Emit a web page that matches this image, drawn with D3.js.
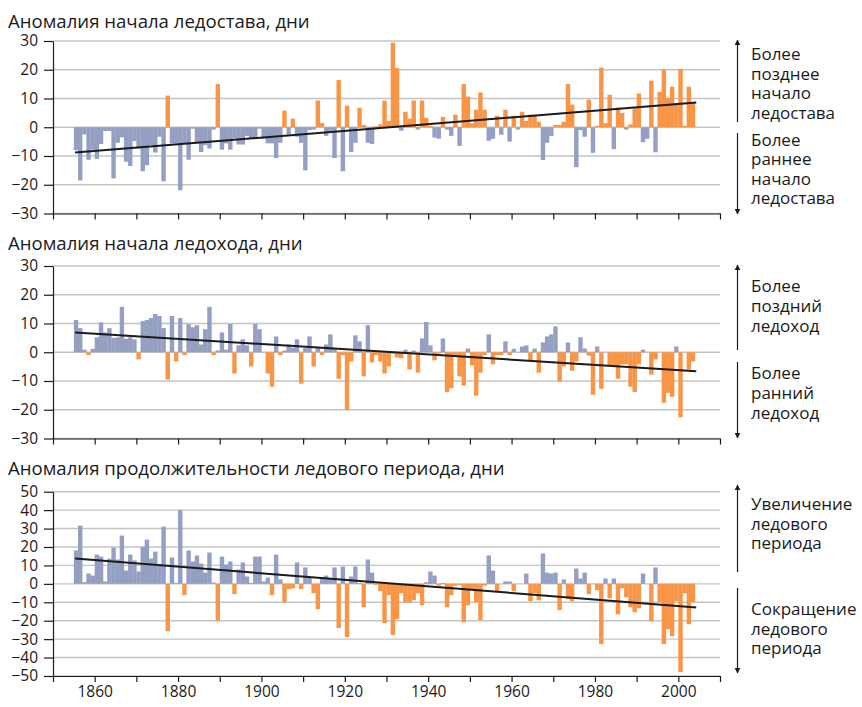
<!DOCTYPE html>
<html>
<head>
<meta charset="utf-8">
<script src="https://cdn.jsdelivr.net/npm/d3@7"></script>
<style>
  body { margin: 0; background: #fff; }
  text { font-family: "Open Sans", sans-serif; fill: #1a1a1a; }
</style>
</head>
<body>
<svg id="chart" width="862" height="707"></svg>
<script>
// one bar per year, 1855 .. 2003
var firstYear = 1855;

var freezeAnomaly = [
    -8, -18.5, -2.5, -11.3, -7.8, -11, -5.8, -1.3, -1.3, -17.8,
    -5.4, -3.5, -12, -13.5, -4.8, -7.4, -15.3, -13.2, -6.2, -8.8,
    -3.3, -18.8, 11, -5.6, -5.6, -21.9, -5.6, -11.3, -0.5, -5.3,
    -8.6, -6.2, -7.4, -0.8, 15, -7.8, -5.6, -7.8, -3.9, -6,
    -6, -3, -4, -4, -0.5, -4, -5.6, -5.6, -10.7, -5.4,
    5.8, -2.5, 3, -3.3, -5.4, -15, -1, -0.8, 9.3, 1.5,
    -3, -1.5, -10.7, 16.4, -15.3, 7.5, -8.6, -5.4, 6.8, 0.8,
    -5.4, -5.8, 0.3, 1, 9.3, 2.2, 29.4, 20.6, -1.2, 5.4,
    3, 9.3, -0.8, 9.3, 3.3, 0.5, -3.6, -4, 3.6, -0.8,
    -3, 4.4, -6.5, 15, 10.7, 1.4, 6.1, 12.1, 6.1, -4.7,
    -4, 4, -2.6, 6.1, -5, 4, -0.8, 5.4, 2.2, 4.4,
    4, 1.9, -11.4, -5.4, -3, 0.8, 0.8, 1.9, 15, 7.9,
    -13.9, -1, -3.3, 9.6, -8.9, 0.5, 20.8, 1.4, 11.3, -7.6,
    6.8, 5, -0.8, 1, 6.5, 11.7, -5.2, -4, 16.2, -8.7,
    12.3, 20, 10.1, 14.1, 7.9, 20.3, 0.5, 14.1, 8.5
];

var breakupAnomaly = [
    11.2, 8.4, 0.9, -1, 1.2, 5.2, 10.4, 6.9, 8.4, 5,
    5.2, 15.8, 4.7, 5.2, 4.5, -2.5, 10.8, 11.2, 11.9, 13.3,
    12.6, 8.4, -9.5, 12.6, -3.2, 11.9, -1, 9.8, 8.7, 9.4,
    2.7, 8, 15.8, -1, 0.6, 6.9, 0.9, 9.8, -7.4, 2.4,
    4.5, 2.4, -4.9, 9.8, 8, 0, -7.4, -12, 5.5, -1,
    0.6, 2.7, 1.6, 4.5, -10.9, 1.6, 5.5, -4.9, 1.6, -1,
    2.7, 6.2, 1.2, -9.2, -1, -20.1, -3.2, 5.9, 3.8, -8.4,
    9.4, -3.5, -1, -3.2, -7.4, -4.9, -0.5, -1.8, -2.1, 0.9,
    -6, 0.6, -7.1, 4.8, 10.5, 2.4, -2.8, -0.5, 4.8, -13.9,
    -12.5, -1, -8.4, -11.6, 1.3, -4.6, -15.1, -7.1, -1, 6.2,
    -4.2, -1, -1, 3.8, -1, 1.2, 0, 2, 2.4, -2.8,
    1.3, -7.1, 3.4, 5.5, 6.2, 9, -10.2, -4.9, 3.4, -6.4,
    -3.2, 5.2, 1.3, -1.2, -14.8, 2, -12.7, 0, -4.9, -4.9,
    -9.2, -4.2, -4.2, -12, -13.8, -4.2, 0.9, 0, -7.8, -2.5,
    0, -17.6, -14.1, -15.5, 2, -22.6, 0, -6, -3.2
];

var durationAnomaly = [
    18.1, 31.6, 0.9, 5.6, 4.5, 15.9, 14.8, 1.3, 13.7, 19.7,
    13.2, 26.2, 7.2, 15.9, 12.7, 6.7, 20.1, 24, 13.7, 17.5,
    10.5, 31.1, -25.7, 14.3, 0.5, 40.1, -6.1, 18.1, 12.1, 15.4,
    11, 6.1, 17, 0.7, -19.9, 14.8, 10.5, 12.1, -5.6, 7.8,
    11.6, 4, 0.5, 14.8, 14.8, 1.3, 3.4, -6.1, 15.9, 2.4,
    -10, -2.9, -2.4, 11.6, -2.9, 8.9, 3.4, -5.1, -13.7, 2.9,
    4.5, 2.9, 8.9, -24, 9.4, -28.9, 4, 9.4, 0.5, -12.7,
    13.2, 6.1, -0.5, -4, -21.3, -6.1, -27.8, -19.2, -5.1, -10,
    -10, -8.9, -5.1, -11.6, 0.9, 6.7, 4.5, -1, 0.5, -12.7,
    -6.1, -1, -0.5, -20.8, -11.6, -3, -10, -19.7, -1, 15.4,
    7.2, -4, 0, 1.3, 1.3, -4, 0, 0, 5.6, -9.4,
    -5.1, -8.9, 16.5, 6.1, 5.6, 6.1, -14.3, 2.4, -8.3, -9.4,
    8.3, 2.9, 6.1, -5.6, 0, -3.4, -32.7, 2.9, -7.8, 2.9,
    -16.5, -2.4, -7.2, -12.7, -15.4, -13.2, 5.6, 0, -20.3, 8.9,
    -10, -32.7, -24.6, -28.4, -9.4, -47.9, -5.1, -21.9, -10
];

// linear trend, value at start and end year
var trendYears = [1855.3, 2004.3];
var freezeTrend = [-8.8, 8.6];
var breakupTrend = [6.9, -6.6];
var durationTrend = [13.7, -12.8];

var titles = [
    'Аномалия начала ледостава, дни',
    'Аномалия начала ледохода, дни',
    'Аномалия продолжительности ледового периода, дни'
];

var yTicks30 = [-30, -20, -10, 0, 10, 20, 30];
var yTicks50 = [-50, -40, -30, -20, -10, 0, 10, 20, 30, 40, 50];
var xTickYears = [1850, 1860, 1870, 1880, 1890, 1900, 1910, 1920, 1930, 1940, 1950, 1960, 1970, 1980, 1990, 2000, 2010];
var xLabelYears = [1860, 1880, 1900, 1920, 1940, 1960, 1980, 2000];

var freezeNotes = [['Более', 'позднее', 'начало', 'ледостава'], ['Более', 'раннее', 'начало', 'ледостава']];
var breakupNotes = [['Более', 'поздний', 'ледоход'], ['Более', 'ранний', 'ледоход']];
var durationNotes = [['Увеличение', 'ледового', 'периода'], ['Сокращение', 'ледового', 'периода']];

var blue = '#959fc2';
var orange = '#f89546';

var panels = [
    { title: titles[0], titleY: 28, values: freezeAnomaly, trend: freezeTrend, ticks: yTicks30,
      top: 41, bottom: 213.5, warm: 1, labels: false,
      notes: freezeNotes, noteY: [60, 145.5], lineH: 19.5, arrows: [[122, 40], [133, 214]] },
    { title: titles[1], titleY: 250, values: breakupAnomaly, trend: breakupTrend, ticks: yTicks30,
      top: 266, bottom: 438.5, warm: -1, labels: false,
      notes: breakupNotes, noteY: [292, 379], lineH: 20, arrows: [[350, 265], [362, 438]] },
    { title: titles[2], titleY: 475, values: durationAnomaly, trend: durationTrend, ticks: yTicks50,
      top: 491.7, bottom: 676, warm: -1, labels: true,
      notes: durationNotes, noteY: [510, 615], lineH: 19.5, arrows: [[572, 485], [588, 673]] }
];

var svg = d3.select('#chart');

svg.append('defs').append('marker')
    .attr('id', 'head')
    .attr('viewBox', '0 0 10 10')
    .attr('refX', 9).attr('refY', 5)
    .attr('markerWidth', 6).attr('markerHeight', 7)
    .attr('markerUnits', 'userSpaceOnUse')
    .attr('orient', 'auto')
    .append('path')
    .attr('d', 'M0,0 L10,5 L0,10 Z')
    .attr('fill', '#1a1a1a');

var x = d3.scaleLinear().domain([1850, 2010]).range([53, 720]);
var barW = x(firstYear + 1) - x(firstYear);

panels.forEach(function(p) {
    var y = d3.scaleLinear()
        .domain([p.ticks[0], p.ticks[p.ticks.length - 1]])
        .range([p.bottom, p.top]);

    var g = svg.append('g');

    g.append('text')
        .attr('x', 8)
        .attr('y', p.titleY)
        .attr('font-size', 18.6)
        .text(p.title);

    // grid
    g.selectAll('line.grid')
        .data(p.ticks)
        .enter().append('line')
        .attr('class', 'grid')
        .attr('x1', x(1850)).attr('x2', x(2010))
        .attr('y1', function(d) { return y(d); })
        .attr('y2', function(d) { return y(d); })
        .attr('stroke', '#c4c4c4')
        .attr('stroke-width', 1.4);

    g.selectAll('rect')
        .data(p.values)
        .enter().append('rect')
        .attr('x', function(d, i) { return x(firstYear + i); })
        .attr('width', barW + 0.25)
        .attr('y', function(d) { return y(Math.max(0, d)); })
        .attr('height', function(d) { return Math.abs(y(d) - y(0)); })
        .attr('fill', function(d) { return d * p.warm > 0 ? orange : blue; });

    g.append('line')
        .attr('x1', x(trendYears[0])).attr('y1', y(p.trend[0]))
        .attr('x2', x(trendYears[1])).attr('y2', y(p.trend[1]))
        .attr('stroke', '#1a1a1a')
        .attr('stroke-width', 2);

    var yAxis = d3.axisLeft(y)
        .tickValues(p.ticks)
        .tickSize(9)
        .tickSizeOuter(0)
        .tickPadding(6);

    var xAxis = d3.axisBottom(x)
        .tickValues(xTickYears)
        .tickSize(6)
        .tickSizeOuter(0)
        .tickPadding(4)
        .tickFormat(function(d) { return p.labels && xLabelYears.indexOf(d) >= 0 ? d : ''; });

    var ya = g.append('g')
        .attr('transform', 'translate(' + x(1850) + ',0)')
        .call(yAxis);

    var xa = g.append('g')
        .attr('transform', 'translate(0,' + p.bottom + ')')
        .call(xAxis);

    [ya, xa].forEach(function(a) {
        a.selectAll('path, line').attr('stroke', '#1a1a1a').attr('stroke-width', 1.2);
        a.selectAll('text')
            .attr('font-size', 15.5)
            .attr('fill', '#1a1a1a')
            .style('font-family', '"Open Sans", sans-serif');
    });

    // side notes with arrows
    p.arrows.forEach(function(a) {
        g.append('line')
            .attr('x1', 737.5).attr('y1', a[0])
            .attr('x2', 737.5).attr('y2', a[1])
            .attr('stroke', '#1a1a1a')
            .attr('stroke-width', 1.2)
            .attr('marker-end', 'url(#head)');
    });

    p.notes.forEach(function(lines, k) {
        g.selectAll(null)
            .data(lines)
            .enter().append('text')
            .attr('x', 751)
            .attr('y', function(d, i) { return p.noteY[k] + i * p.lineH; })
            .attr('font-size', 17)
            .text(function(d) { return d; });
    });
});
</script>
</body>
</html>
